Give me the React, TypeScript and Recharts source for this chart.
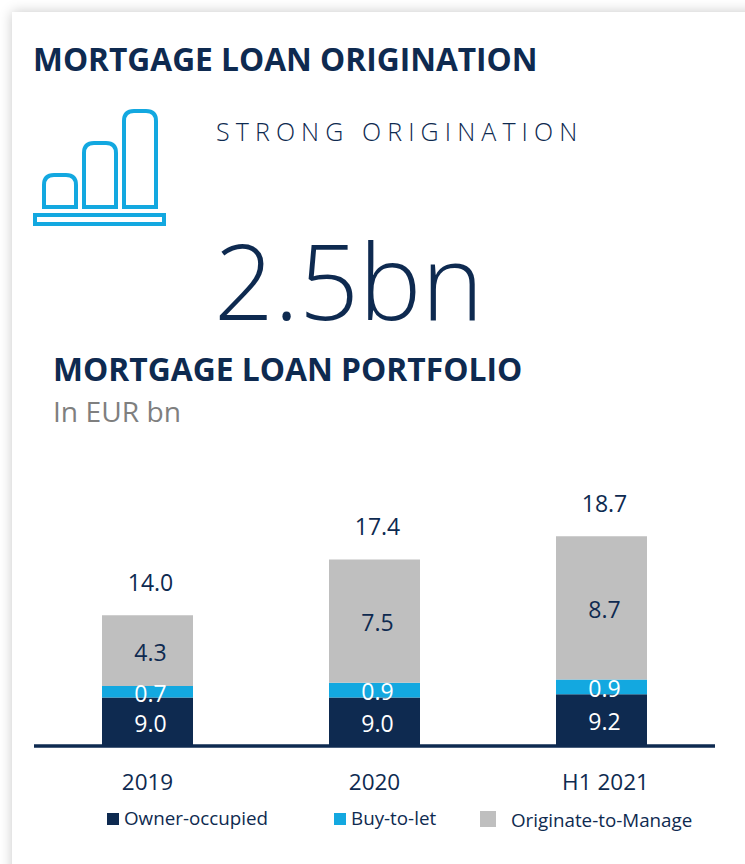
import React from 'react';
import { BarChart, Bar, XAxis, YAxis, Legend, LabelList } from 'recharts';

const categories = ['2019', '2020', 'H1 2021'];
const ownerOccupied = [9.0, 9.0, 9.2];
const buyToLet = [0.7, 0.9, 0.9];
const originateToManage = [4.3, 7.5, 8.7];
const totals = [14.0, 17.4, 18.7];

const NAVY = '#0E2A50';
const BLUE = '#13A8E0';
const GREY = '#BFBFBF';
const FONT = '"Open Sans", sans-serif';

const BASELINE_Y = 746;

const chartData = categories.map((name, i) => ({
  name,
  owner: ownerOccupied[i],
  buy: buyToLet[i],
  originate: originateToManage[i],
  total: totals[i]
}));

// the source chart cuts its value axis at about 6, so the dark bars look short
const segmentLabel = (color: string) => (props: any) => {
  const { x, y, width, height, value } = props;
  const bottom = Math.min(y + height, BASELINE_Y);
  return (
    <text
      x={x + width / 2 + 3}
      y={(y + bottom) / 2 + 1}
      textAnchor="middle"
      dominantBaseline="central"
      fill={color}
      fontFamily={FONT}
      fontSize={23}
    >
      {Number(value).toFixed(1)}
    </text>
  );
};

const totalLabel = (props: any) => {
  const { x, y, width, index } = props;
  return (
    <text
      x={x + width / 2 + 3}
      y={y - 33}
      textAnchor="middle"
      dominantBaseline="central"
      fill={NAVY}
      fontFamily={FONT}
      fontSize={23}
    >
      {totals[index].toFixed(1)}
    </text>
  );
};

const categoryTick = (props: any) => {
  const { x, y, payload, index } = props;
  return (
    <text
      x={x + (index === 2 ? 4 : 0)}
      y={y + 15}
      textAnchor="middle"
      fill={NAVY}
      fontFamily={FONT}
      fontSize={22.5}
    >
      {payload.value}
    </text>
  );
};

const legendSpots = [
  { box: 107, size: 12, boxTop: 8, text: 124, textTop: 0 },
  { box: 334, size: 12, boxTop: 8, text: 351, textTop: 0 },
  { box: 480, size: 16, boxTop: 6, text: 511, textTop: 2 }
];

const ChartLegend = ({ payload }: any) => (
  <div style={{ position: 'relative', width: 745, height: 30 }}>
    {(payload || []).map((item: any, i: number) => (
      <React.Fragment key={item.value}>
        <div
          style={{
            position: 'absolute',
            left: legendSpots[i].box,
            top: legendSpots[i].boxTop,
            width: legendSpots[i].size,
            height: legendSpots[i].size,
            background: item.color
          }}
        />
        <div
          style={{
            position: 'absolute',
            left: legendSpots[i].text,
            top: legendSpots[i].textTop,
            fontFamily: FONT,
            fontSize: 18.8,
            lineHeight: '26px',
            color: NAVY,
            whiteSpace: 'nowrap'
          }}
        >
          {item.value}
        </div>
      </React.Fragment>
    ))}
  </div>
);

const BarsIcon = () => (
  <svg width={180} height={130} style={{ position: 'absolute', left: 20, top: 100 }}>
    <g fill="none" stroke={BLUE} strokeWidth={4}>
      <path d="M24 107 V85 Q24 75 34 75 H46 Q56 75 56 85 V107 Z" />
      <path d="M64 107 V53 Q64 43 74 43 H86 Q96 43 96 53 V107 Z" />
      <path d="M104 107 V21 Q104 11 114 11 H126 Q136 11 136 21 V107 Z" />
      <rect x={15} y={115} width={129} height={9} />
    </g>
  </svg>
);

const textAt = (left: number, top: number, style: React.CSSProperties): React.CSSProperties => ({
  position: 'absolute',
  left,
  top,
  margin: 0,
  fontFamily: FONT,
  color: NAVY,
  whiteSpace: 'nowrap',
  ...style
});

export default function App() {
  return (
    <div style={{ position: 'absolute', left: 0, top: 0, width: 745, height: 864, overflow: 'hidden', background: '#fff' }}>
      <div
        style={{
          position: 'absolute',
          left: 12,
          top: 12,
          width: 800,
          height: 900,
          background: '#fff',
          boxShadow: '0 0 12px rgba(0,0,0,0.22)'
        }}
      />
      <div style={textAt(33, 38, { fontSize: 31.7, fontWeight: 700, lineHeight: '42px' })}>MORTGAGE LOAN ORIGINATION</div>
      <BarsIcon />
      <div style={textAt(216, 113, { fontSize: 25, fontWeight: 300, letterSpacing: 6.1, lineHeight: '36px' })}>STRONG ORIGINATION</div>
      <div style={textAt(214, 208, { fontSize: 105, fontWeight: 300, lineHeight: '144px' })}>2.5bn</div>
      <div style={textAt(53, 348, { fontSize: 31.8, fontWeight: 700, lineHeight: '42px' })}>MORTGAGE LOAN PORTFOLIO</div>
      <div style={textAt(53, 393, { fontSize: 28.2, color: '#7F7F7F', lineHeight: '36px' })}>In EUR bn</div>

      <div style={{ position: 'absolute', left: 0, top: 0 }}>
        <BarChart
          width={745}
          height={864}
          data={chartData}
          barSize={91}
          barCategoryGap={0}
          margin={{ top: 515, right: 30, bottom: 0, left: 34 }}
        >
          <XAxis
            dataKey="name"
            height={88}
            tickLine={false}
            axisLine={{ stroke: NAVY, strokeWidth: 3.5 }}
            tick={categoryTick}
            tickMargin={23}
          />
          <YAxis hide domain={[6.05, 20.1]} allowDataOverflow />
          <Legend
            content={<ChartLegend />}
            itemSorter={null}
            wrapperStyle={{ position: 'absolute', left: 0, top: 805, width: 745, height: 30 }}
          />
          <Bar dataKey="owner" name="Owner-occupied" stackId="a" fill={NAVY} isAnimationActive={false}>
            <LabelList dataKey="owner" content={segmentLabel('#fff')} />
          </Bar>
          <Bar dataKey="buy" name="Buy-to-let" stackId="a" fill={BLUE} isAnimationActive={false}>
            <LabelList dataKey="buy" content={segmentLabel('#fff')} />
          </Bar>
          <Bar dataKey="originate" name="Originate-to-Manage" stackId="a" fill={GREY} isAnimationActive={false}>
            <LabelList dataKey="originate" content={segmentLabel(NAVY)} />
            <LabelList dataKey="total" content={totalLabel} />
          </Bar>
        </BarChart>
      </div>
    </div>
  );
}
